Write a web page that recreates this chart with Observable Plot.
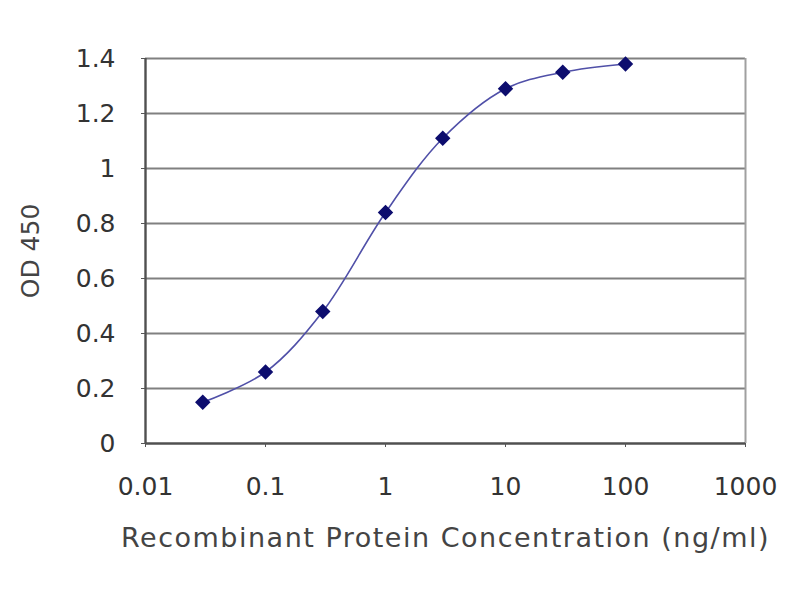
<!DOCTYPE html>
<html>
<head>
<meta charset="utf-8">
<script src="https://cdn.jsdelivr.net/npm/d3@7"></script>
<script src="https://cdn.jsdelivr.net/npm/@observablehq/plot@0.6"></script>
<style>
  html, body { margin: 0; padding: 0; background: #fff; }
  #chart { width: 800px; height: 600px; }
</style>
</head>
<body>
<div id="chart"></div>
<script>
const concentrations = [0.03, 0.1, 0.3, 1, 3, 10, 30, 100];
const odValues = [0.15, 0.26, 0.48, 0.84, 1.11, 1.29, 1.35, 1.38];
const xTicks = [0.01, 0.1, 1, 10, 100, 1000];
const xTickLabels = ["0.01", "0.1", "1", "10", "100", "1000"];
const yTicks = [0, 0.2, 0.4, 0.6, 0.8, 1, 1.2, 1.4];
const yTickLabels = ["0", "0.2", "0.4", "0.6", "0.8", "1", "1.2", "1.4"];
const xTitle = "Recombinant Protein Concentration (ng/ml)";
const yTitle = "OD 450";

const data = concentrations.map((c, i) => ({c, od: odValues[i]}));
const xFmt = (d) => xTickLabels[xTicks.indexOf(d)];
const yFmt = (d) => yTickLabels[yTicks.findIndex(t => Math.abs(t - d) < 1e-9)];

const chart = Plot.plot({
  width: 800,
  height: 600,
  marginLeft: 145,
  marginRight: 55,
  marginTop: 58,
  marginBottom: 157,
  style: {fontFamily: "DejaVu Sans, Liberation Sans, Arial, sans-serif", fontSize: "25px", color: "#333", background: "#fff"},
  x: {type: "log", domain: [0.01, 1000], label: null},
  y: {domain: [0, 1.4], label: null},
  marks: [
    Plot.ruleY(yTicks.filter(d => d > 0), {stroke: "#808080", strokeWidth: 2.2}),
    Plot.ruleX([1000], {stroke: "#a0a0a0", strokeWidth: 2}),
    Plot.ruleX([0.01], {stroke: "#505050", strokeWidth: 2.4}),
    Plot.ruleY([0], {stroke: "#505050", strokeWidth: 2.4}),
    Plot.line(data, {x: "c", y: "od", stroke: "#5050a8", strokeWidth: 1.6, curve: "catmull-rom"}),
    Plot.dot(data, {x: "c", y: "od", symbol: "diamond2", r: 6, fill: "#0d0d6e", stroke: "#0d0d6e"}),
    Plot.axisX({ticks: xTicks, tickFormat: xFmt, tickSize: 4, tickPadding: 30, fontSize: 25, label: null, stroke: "#555", fill: "#333"}),
    Plot.axisY({ticks: yTicks, tickFormat: yFmt, tickSize: 4, tickPadding: 26, fontSize: 25, label: null, stroke: "#555", fill: "#333"}),
    Plot.text([xTitle], {frameAnchor: "bottom", lineAnchor: "middle", dy: 95, fontSize: 27, fill: "#444", text: d => d}),
    Plot.text([yTitle], {frameAnchor: "left", textAnchor: "middle", lineAnchor: "middle", dx: -115, rotate: -90, fontSize: 25, fill: "#444", text: d => d})
  ]
});
d3.select(chart).selectAll("text").filter(function() { return this.textContent === xTitle; })
  .style("letter-spacing", "1.5px");
document.getElementById("chart").appendChild(chart);
</script>
</body>
</html>
